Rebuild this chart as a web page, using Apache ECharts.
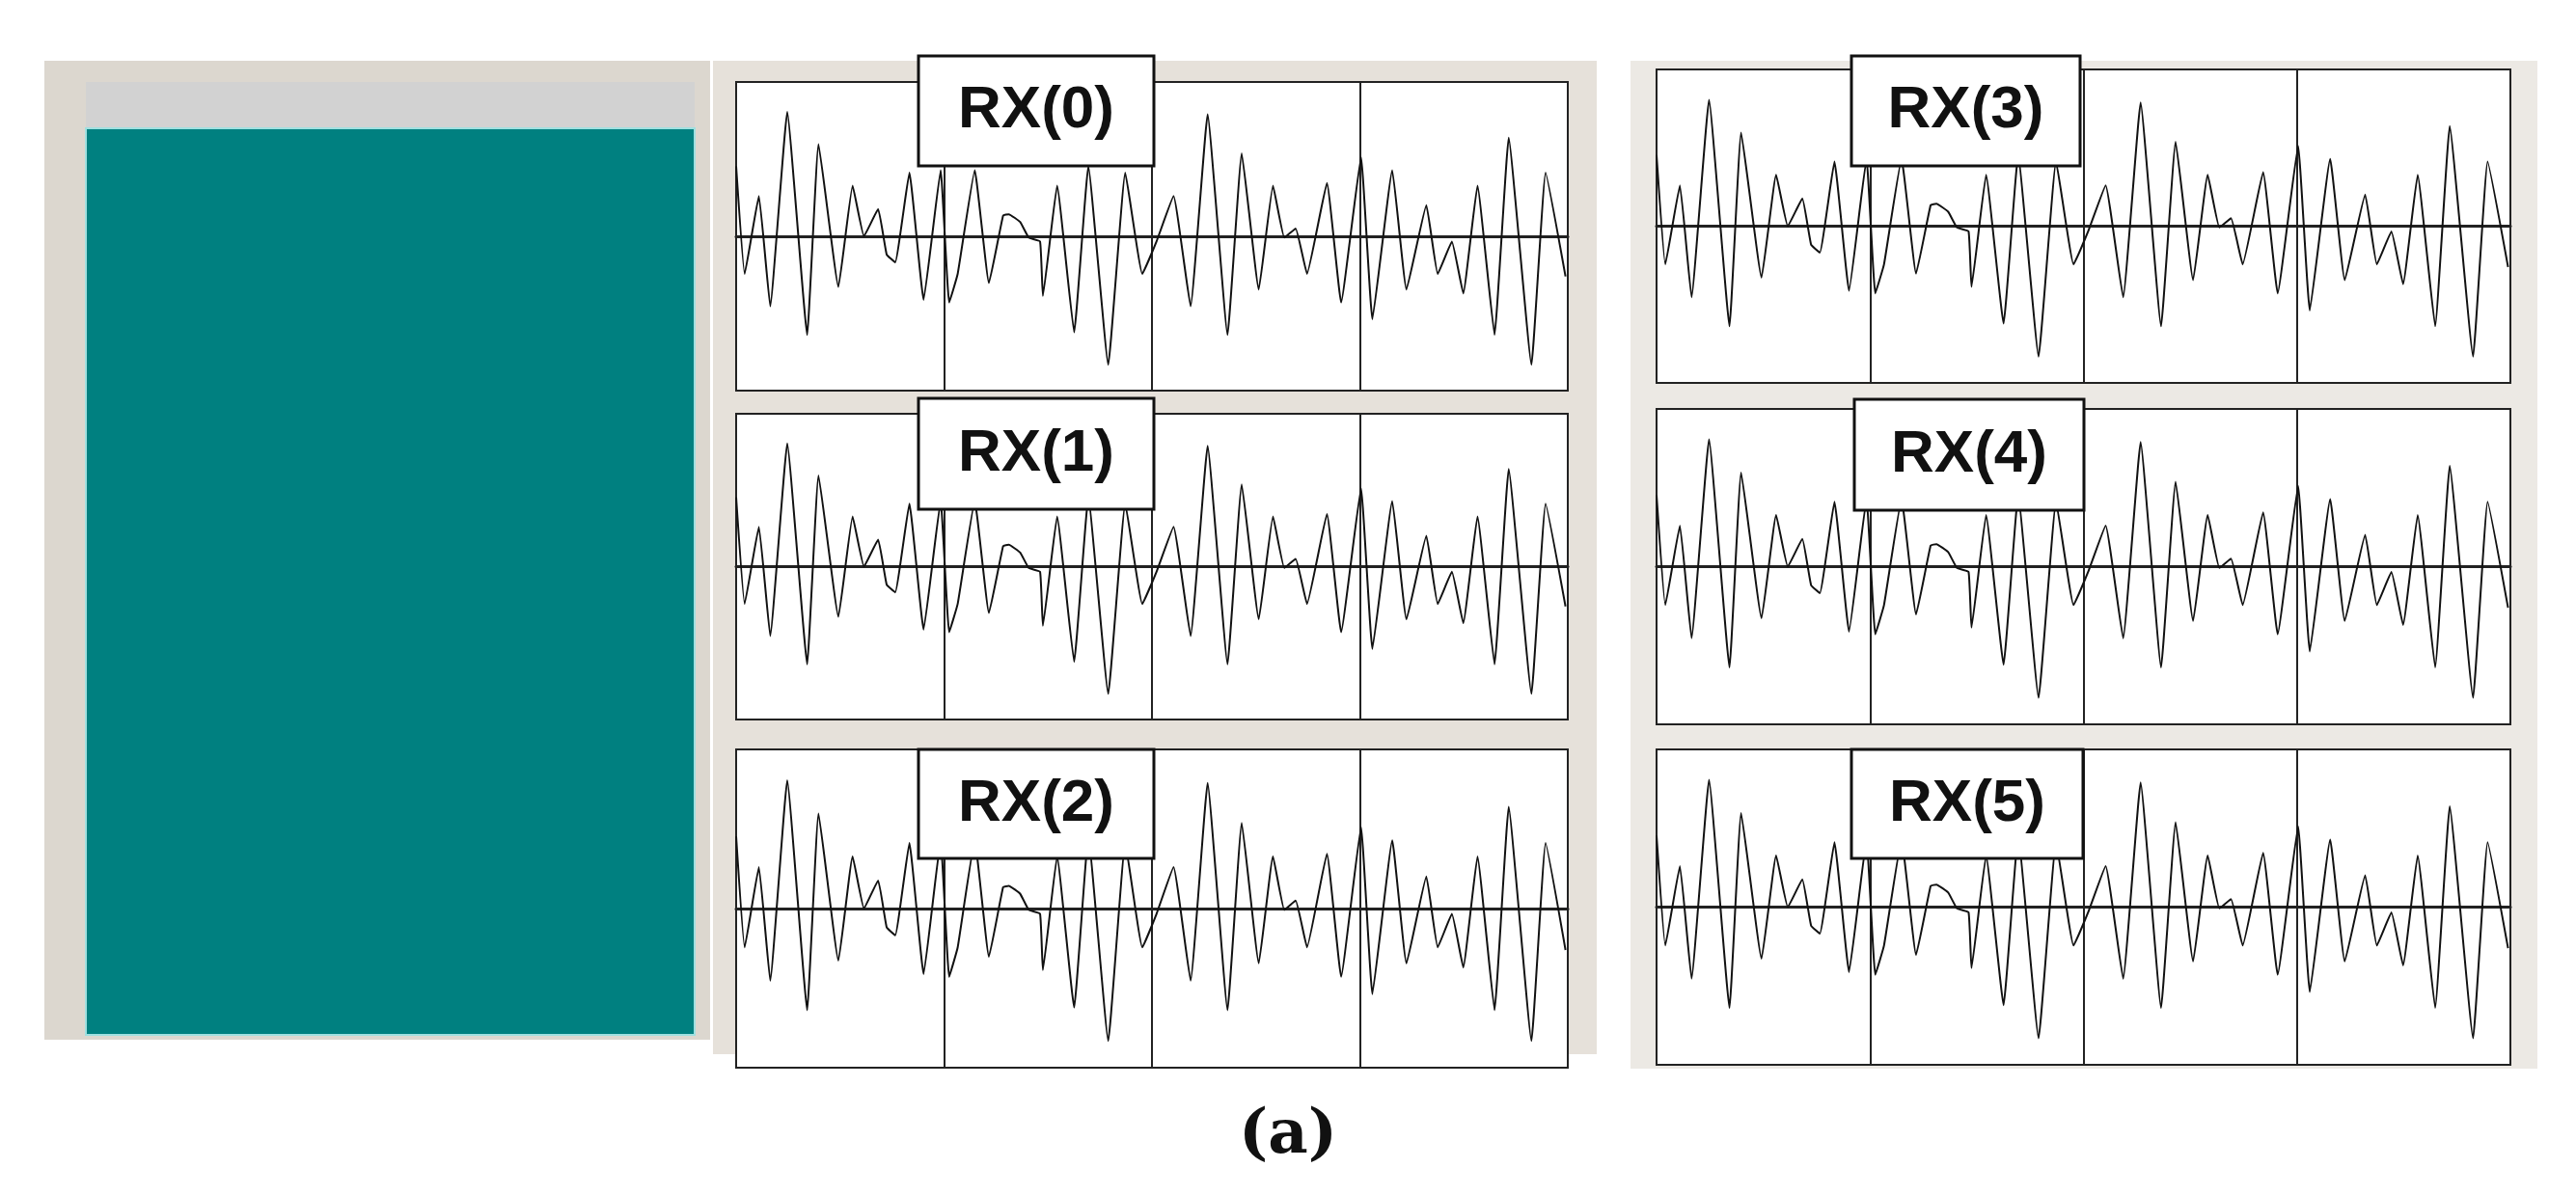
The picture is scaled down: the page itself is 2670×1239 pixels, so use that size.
<!DOCTYPE html>
<html>
<head>
<meta charset="UTF-8">
<script src="https://cdn.jsdelivr.net/npm/echarts@6/dist/echarts.min.js"></script>
<style>html,body{margin:0;height:100%;background:#fff}#main{width:2670px;height:1239px}</style>
</head>
<body>
<div id="main"></div>
<script>
// waveform sample positions (0..1465 across a panel) and amplitudes
var waveX = [0,15,40,60,90,125,145,180,205,225,250,265,280,305,330,360,375,390,420,445,470,480,500,515,535,540,565,595,620,655,685,715,740,770,800,830,865,890,920,945,965,985,1005,1040,1065,1100,1120,1155,1180,1215,1235,1260,1280,1305,1335,1360,1400,1425,1460];
var waveY = [0.54,-0.29,0.31,-0.54,0.96,-0.76,0.71,-0.39,0.39,0,0.21,-0.14,-0.2,0.49,-0.49,0.51,-0.51,-0.29,0.51,-0.36,0.16,0.17,0.11,-0.01,-0.04,-0.46,0.39,-0.74,0.54,-0.99,0.49,-0.29,-0.04,0.31,-0.54,0.94,-0.76,0.64,-0.41,0.39,-0.01,0.06,-0.29,0.41,-0.51,0.61,-0.64,0.51,-0.41,0.24,-0.29,-0.04,-0.44,0.39,-0.76,0.76,-0.99,0.49,-0.31];
var labels = ['RX(0)','RX(1)','RX(2)','RX(3)','RX(4)','RX(5)'];

// panel boxes [left, top, width, height]
var boxes = [
  [763,85,862,320],[763,429,862,317],[763,777,862,330],
  [1717,72,885,325],[1717,424,885,327],[1717,777,885,327]
];
var labelBoxes = [[952,58,244,114],[952,413,244,115],[952,777,244,113],[1919,58,237,114],[1922,414,238,115],[1919,777,240,113]];

var data = waveX.map(function(x,i){return [x, waveY[i]];});
var grids=[],xAxes=[],yAxes=[],series=[];
boxes.forEach(function(b,i){
  grids.push({left:b[0],top:b[1],width:b[2],height:b[3],show:true,backgroundColor:'#fff',borderColor:'#222',borderWidth:2});
  xAxes.push({type:'value',gridIndex:i,min:0,max:1464,interval:366,axisLabel:{show:false},axisTick:{show:false},
    axisLine:{show:true,onZero:true,lineStyle:{color:'#222',width:3}},splitLine:{show:true,lineStyle:{color:'#222',width:2}}});
  yAxes.push({type:'value',gridIndex:i,min:-1.19,max:1.19,axisLabel:{show:false},axisTick:{show:false},splitLine:{show:false},
    axisLine:{show:false}});
  series.push({type:'line',xAxisIndex:i,yAxisIndex:i,data:data,symbol:'none',smooth:0.1,lineStyle:{color:'#111',width:2},z:3});
});

var graphic=[
  {type:'rect',shape:{x:46,y:63,width:690,height:1015},style:{fill:'#dcd7cf'},z:-10},
  {type:'rect',shape:{x:89,y:85,width:631,height:48},style:{fill:'#d2d2d2'},z:-9},
  {type:'rect',shape:{x:89,y:133,width:631,height:940},style:{fill:'#008080',stroke:'#9fe0e0',lineWidth:2},z:-9},
  {type:'rect',shape:{x:739,y:63,width:916,height:1030},style:{fill:'#e6e1da'},z:-10},
  {type:'rect',shape:{x:1690,y:63,width:940,height:1045},style:{fill:'#ece9e4'},z:-10}
];
labelBoxes.forEach(function(b,i){
  graphic.push({type:'rect',shape:{x:b[0],y:b[1],width:b[2],height:b[3]},style:{fill:'#fff',stroke:'#111',lineWidth:3},z:100});
  graphic.push({type:'text',x:b[0]+b[2]/2,y:b[1]+b[3]/2,style:{text:labels[i],fill:'#111',font:'bold 62px "Liberation Sans Narrow", "Liberation Sans", Arial',align:'center',verticalAlign:'middle'},z:101});
});
graphic.push({type:'text',x:1335,y:1178,style:{text:'(a)',fill:'#111',font:'bold 64px "DejaVu Serif", serif',align:'center',verticalAlign:'middle'},z:101});

var myChart = echarts.init(document.getElementById('main'));
myChart.setOption({animation:false,backgroundColor:'#fff',grid:grids,xAxis:xAxes,yAxis:yAxes,series:series,graphic:graphic});
</script>
</body>
</html>
